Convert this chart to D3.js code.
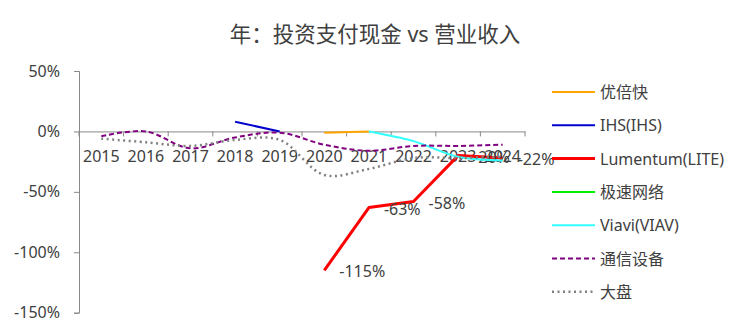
<!DOCTYPE html>
<html>
<head>
<meta charset="utf-8">
<script src="https://cdn.jsdelivr.net/npm/d3@7"></script>
<style>
  body { margin: 0; background: #fff; }
  text { font-family: "Noto Sans", "Noto Sans CJK SC", sans-serif; fill: #404040; }
</style>
</head>
<body>
<script>
// size of the svg
var w = 750;
var h = 333;

// categories and tick labels
var years = ["2015", "2016", "2017", "2018", "2019", "2020", "2021", "2022", "2023", "2024"];
var yTicks = [0.5, 0, -0.5, -1, -1.5];

// series values (null = no data)
var ubq      = [null, null, null, null, null, -0.01, 0.0, null, null, null];
var ihs      = [null, null, null, 0.08, 0.0, null, null, null, null, null];
var lite     = [null, null, null, null, null, -1.15, -0.63, -0.58, -0.20, -0.22];
var jisu     = [null, null, null, null, null, null, null, null, null, null];
var viav     = [null, null, null, null, null, null, 0.0, -0.08, -0.21, -0.24];
var telecom  = [-0.04, 0.0, -0.14, -0.05, -0.01, -0.11, -0.16, -0.12, -0.12, -0.11];
var market   = [-0.06, -0.09, -0.12, -0.07, -0.07, -0.36, -0.31, -0.22, -0.22, -0.21];

var seriesNames = ["优倍快", "IHS(IHS)", "Lumentum(LITE)", "极速网络", "Viavi(VIAV)", "通信设备", "大盘"];
var seriesData = [ubq, ihs, lite, jisu, viav, telecom, market];

// styles for each series
var styles = [
  {color: "#ffa500", width: 2, dash: null, smooth: false, labels: false},
  {color: "#0000cd", width: 2, dash: null, smooth: false, labels: false},
  {color: "#ff0000", width: 3, dash: null, smooth: false, labels: true},
  {color: "#00ee00", width: 2, dash: null, smooth: false, labels: false},
  {color: "#33ffff", width: 2, dash: null, smooth: true, labels: false},
  {color: "#800080", width: 2, dash: "5,3", smooth: true, labels: false},
  {color: "#808080", width: 2.5, dash: "2,3.5", smooth: true, labels: false}
];

var svg = d3.select("body")
            .append("svg")
            .attr("width", w)
            .attr("height", h);

// scales
var x = d3.scaleBand()
          .domain(years)
          .range([79, 525]);

var y = d3.scaleLinear()
          .domain([-1.5, 0.5])
          .range([312.7, 71]);

// title
svg.append("text")
   .attr("x", 375)
   .attr("y", 33)
   .attr("text-anchor", "middle")
   .attr("dominant-baseline", "central")
   .style("font-size", "21.5px")
   .text("年：投资支付现金 vs 营业收入");

// y axis
var yAxis = svg.append("g")
   .attr("transform", "translate(79,0)")
   .call(d3.axisLeft(y).tickValues(yTicks).tickSize(5).tickPadding(14)
           .tickFormat(d => Math.round(d * 100) + "%"));
yAxis.selectAll("path, line").attr("stroke", "#898989");
yAxis.selectAll("text").style("font-size", "16px").attr("fill", "#404040");

// x axis at 0%
var xAxis = svg.append("g")
   .attr("transform", "translate(0," + y(0) + ")")
   .call(d3.axisBottom(x).tickSizeOuter(0).tickSize(0).tickFormat(""));
xAxis.selectAll("path").attr("stroke", "#898989");

// ticks between categories
var bounds = years.map(d => x(d)).concat([x.range()[1]]);
svg.selectAll(".xtick")
   .data(bounds)
   .enter().append("line")
   .attr("x1", d => d).attr("x2", d => d)
   .attr("y1", y(0)).attr("y2", y(0) + 5)
   .attr("stroke", "#898989");

svg.selectAll(".xlabel")
   .data(years)
   .enter().append("text")
   .attr("x", d => x(d) + x.bandwidth() / 2)
   .attr("y", y(0) + 25)
   .attr("text-anchor", "middle")
   .attr("dominant-baseline", "central")
   .style("font-size", "16px")
   .text(d => d);

// lines
seriesData.forEach(function(vals, i) {
  var st = styles[i];
  var pts = years.map((yr, j) => ({year: yr, value: vals[j]}));
  var line = d3.line()
               .defined(d => d.value != null)
               .x(d => x(d.year) + x.bandwidth() / 2)
               .y(d => y(d.value))
               .curve(st.smooth ? d3.curveCatmullRom.alpha(0.5) : d3.curveLinear);
  svg.append("path")
     .datum(pts)
     .attr("fill", "none")
     .attr("stroke", st.color)
     .attr("stroke-width", st.width)
     .attr("stroke-dasharray", st.dash)
     .attr("stroke-linejoin", "round")
     .attr("d", line);

  // data labels
  if (st.labels) {
    svg.selectAll(".lbl" + i)
       .data(pts.filter(d => d.value != null))
       .enter().append("text")
       .attr("x", d => x(d.year) + x.bandwidth() / 2 + 15)
       .attr("y", d => y(d.value) + 1)
       .attr("dominant-baseline", "central")
       .style("font-size", "16px")
       .text(d => Math.round(d.value * 100) + "%");
  }
});

// legend
var legend = svg.selectAll(".legend")
   .data(seriesNames)
   .enter().append("g")
   .attr("transform", (d, i) => "translate(552," + (92 + i * 33.3) + ")");

legend.append("line")
      .attr("x1", 0).attr("x2", 43)
      .attr("stroke", (d, i) => styles[i].color)
      .attr("stroke-width", (d, i) => styles[i].width)
      .attr("stroke-dasharray", (d, i) => styles[i].dash);

legend.append("text")
      .attr("x", 48)
      .attr("dominant-baseline", "central")
      .style("font-size", "16px")
      .text(d => d);
</script>
</body>
</html>
